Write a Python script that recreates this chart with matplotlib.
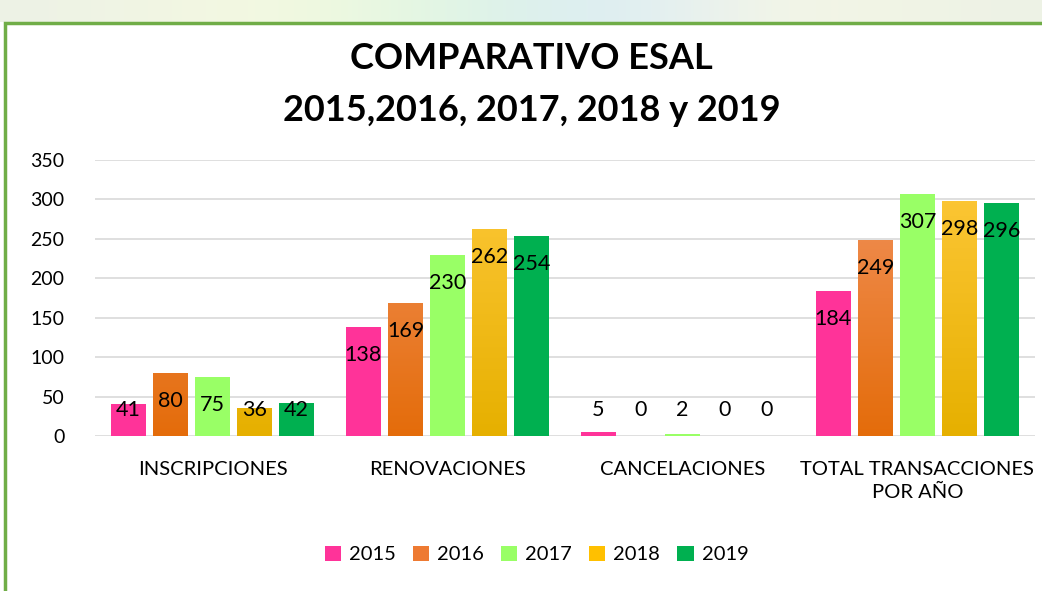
import matplotlib
matplotlib.use("Agg")
import matplotlib.pyplot as plt
import numpy as np
from matplotlib.patches import Rectangle
from matplotlib.colors import LinearSegmentedColormap

categories = ["INSCRIPCIONES", "RENOVACIONES", "CANCELACIONES", "TOTAL TRANSACCIONES\nPOR AÑO"]
years = ["2015", "2016", "2017", "2018", "2019"]
v2015 = [41, 138, 5, 184]
v2016 = [80, 169, 0, 249]
v2017 = [75, 230, 2, 307]
v2018 = [36, 262, 0, 298]
v2019 = [42, 254, 0, 296]
yticks = [0, 50, 100, 150, 200, 250, 300, 350]
title = "COMPARATIVO ESAL\n2015,2016, 2017, 2018 y 2019"

series = [v2015, v2016, v2017, v2018, v2019]
colors = ["#FF3399", "#EE7A32", "#99FF66", "#FFC000", "#00B050"]
grad = [None, ("#F29460", "#E46C0A"), None, ("#FFC93C", "#E6B000"), None]

plt.rcParams['font.family'] = ['Lato', 'DejaVu Sans']

fig = plt.figure(figsize=(10.42, 5.91), dpi=100)

# background strip + border
bg = fig.add_axes([0, 0, 1, 1], zorder=-10)
bg.set_xlim(0, 1042); bg.set_ylim(591, 0); bg.axis('off')
strip = np.array([[0.93, 0.95, 0.90], [0.97, 0.98, 0.88], [0.88, 0.97, 0.88],
                  [0.85, 0.92, 0.97], [0.97, 0.97, 0.90], [0.93, 0.95, 0.90]])
bg.imshow(strip[None, :, :], extent=[0, 1042, 22, 0], aspect='auto', interpolation='bicubic')
bg.add_patch(Rectangle((5, 23), 1050, 600, facecolor='white', edgecolor='#70AD47', linewidth=2.5))

ax = fig.add_axes([0.0912, 0.2623, 0.902, 0.467])
x = np.arange(len(categories))
w = 0.148
step = 0.179
for i, (vals, c) in enumerate(zip(series, colors)):
    pos = x + (i - 2) * step
    bars = ax.bar(pos, vals, width=w, color=c, label=years[i], zorder=3)
    if grad[i] is not None:
        cmap = LinearSegmentedColormap.from_list("g", [grad[i][1], grad[i][0]])
        g = np.linspace(0, 1, 256)[:, None]
        for b in bars:
            bx = b.get_x()
            bw, bh = b.get_width(), b.get_height()
            if bh <= 0:
                continue
            im = ax.imshow(g, extent=[bx, bx + bw, 0, 350], origin='lower', aspect='auto',
                           cmap=cmap, zorder=3.5)
            im.set_clip_path(b)
    for p, v in zip(pos, vals):
        ly = max(v - 35.5, 33)
        ax.text(p, ly, str(v), ha='center', va='center', fontsize=15.5, color='black', zorder=5)

ax.set_xlim(-0.5, 3.5)
ax.set_ylim(0, 350)
ax.set_yticks(yticks)
ax.set_yticklabels([str(t) for t in yticks], fontsize=14)
ax.set_xticks(x)
ax.set_xticklabels(categories, fontsize=14.5, linespacing=1.45, va='top')
ax.tick_params(axis='both', length=0)
ax.tick_params(axis='y', pad=22)
ax.tick_params(axis='x', pad=18)
ax.grid(axis='y', color='#D9D9D9', linewidth=1.2, zorder=0)
for s in ax.spines.values():
    s.set_visible(False)
ax.set_facecolor('none')

fig.text(0.51, 0.857, title, ha='center', va='center', fontsize=26, fontweight='bold',
         linespacing=1.68)

handles, labels = ax.get_legend_handles_labels()
fig.legend(handles, labels, loc='center', bbox_to_anchor=(0.515, 0.062), ncol=5, frameon=False,
           fontsize=14.5, handlelength=0.8, handleheight=0.8, handletextpad=0.4, columnspacing=0.85)

fig.savefig("out.png", dpi=100)
